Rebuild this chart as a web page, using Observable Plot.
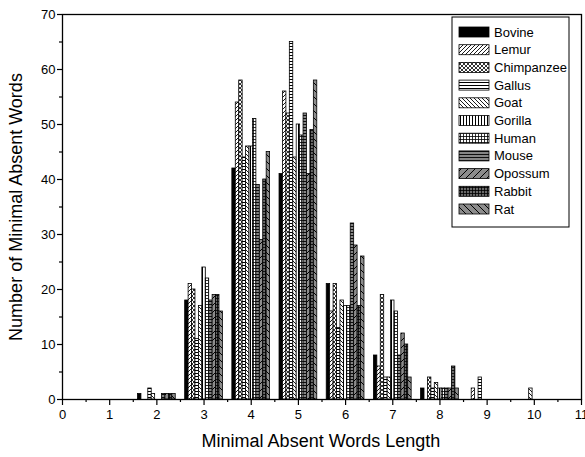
<!DOCTYPE html>
<html><head><meta charset="utf-8">
<script src="https://cdn.jsdelivr.net/npm/d3@7"></script>
<script src="https://cdn.jsdelivr.net/npm/@observablehq/plot@0.6"></script>
<style>
body{margin:0;background:#fff}
svg{font-family:"Liberation Sans",Arial,sans-serif}
</style>
</head><body><div id="chart"></div>
<script>
// Data
const lengths = [2, 3, 4, 5, 6, 7, 8, 9, 10];
const species = ["Bovine", "Lemur", "Chimpanzee", "Gallus", "Goat", "Gorilla", "Human", "Mouse", "Opossum", "Rabbit", "Rat"];
const bovine     = [1, 18, 42, 41, 21,  8, 2, 0, 0];
const lemur      = [0, 21, 54, 56, 16,  6, 0, 2, 0];
const chimpanzee = [0, 20, 58, 52, 21, 19, 4, 0, 0];
const gallus     = [2, 11, 44, 65, 13,  4, 2, 4, 0];
const goat       = [1, 17, 46, 44, 18,  4, 3, 0, 2];
const gorilla    = [0, 24, 46, 50, 17, 18, 2, 0, 0];
const human      = [0, 22, 51, 48, 17, 16, 2, 0, 0];
const mouse      = [1, 18, 39, 52, 32,  8, 2, 0, 0];
const opossum    = [1, 19, 29, 41, 28, 12, 2, 0, 0];
const rabbit     = [1, 19, 40, 49, 17, 10, 6, 0, 0];
const rat        = [1, 16, 45, 58, 26,  4, 2, 0, 0];
const xTicks = [0, 1, 2, 3, 4, 5, 6, 7, 8, 9, 10, 11];
const yTicks = [0, 10, 20, 30, 40, 50, 60, 70];
const xTitle = "Minimal Absent Words Length";
const yTitle = "Number of Minimal Absent Words";

const series = [bovine, lemur, chimpanzee, gallus, goat, gorilla, human, mouse, opossum, rabbit, rat];
const groupWidth = 0.8;
const bw = groupWidth / species.length;
const rows = [];
species.forEach((s, i) => lengths.forEach((L, j) => {
  const v = series[i][j];
  if (v > 0) rows.push({species: s, len: L, value: v,
    x1: L - groupWidth / 2 + i * bw, x2: L - groupWidth / 2 + (i + 1) * bw});
}));
const xMinor = d3.range(0.5, 11, 1);
const yMinor = d3.range(5, 70, 10);

const chart = Plot.plot({
  width: 585, height: 457,
  marginLeft: 62, marginRight: 4, marginTop: 14, marginBottom: 58,
  x: {domain: [0, 11]},
  y: {domain: [0, 70]},
  color: {domain: species, range: species.map((s, i) => `url(#pat${i})`)},
  style: {fontFamily: '"Liberation Sans", Arial, sans-serif', fontSize: "13px", color: "black", background: "white"},
  marks: [
    Plot.rectY(rows, {x1: "x1", x2: "x2", y: "value", fill: "species", stroke: "black", strokeWidth: 0.8}),
    Plot.axisX({ticks: xTicks, tickSize: 6, tickPadding: 4, label: null, strokeWidth: 1.2}),
    Plot.axisX({ticks: xMinor, tickSize: 3, text: null, label: null, strokeWidth: 1.2}),
    Plot.axisY({ticks: yTicks, tickSize: 5, tickPadding: 2, label: null, strokeWidth: 1.2}),
    Plot.axisY({ticks: yMinor, tickSize: 3, text: null, label: null, strokeWidth: 1.2}),
    Plot.frame({stroke: "black", strokeWidth: 1.3})
  ]
});

const svg = d3.select(chart);
const defs = svg.insert("defs", ":first-child");
function pattern(id, size, bg, paths, strokeW) {
  const p = defs.append("pattern").attr("id", id).attr("patternUnits", "userSpaceOnUse")
    .attr("width", size).attr("height", size);
  p.append("rect").attr("width", size).attr("height", size).attr("fill", bg);
  if (paths) p.append("path").attr("d", paths).attr("stroke", "black").attr("stroke-width", strokeW || 1).attr("fill", "none");
}
pattern("pat0", 4, "black", null);
pattern("pat1", 4, "white", "M-1,1L1,-1M0,4L4,0M3,5L5,3", 0.9);
pattern("pat2", 4, "white", "M-1,1L1,-1M0,4L4,0M3,5L5,3M-1,3L1,5M0,0L4,4M3,-1L5,1", 0.8);
pattern("pat3", 3, "white", "M0,1.5H3", 1);
pattern("pat4", 4, "white", "M-1,3L1,5M0,0L4,4M3,-1L5,1", 0.9);
pattern("pat5", 3, "white", "M1.5,0V3", 1);
pattern("pat6", 3, "white", "M0,1.5H3M1.5,0V3", 0.8);
pattern("pat7", 3, "#858585", "M0,1.5H3", 0.9);
pattern("pat8", 7, "#8c8c8c", "M-1,1L1,-1M0,7L7,0M6,8L8,6", 1);
pattern("pat9", 3, "#6a6a6a", "M0,1.5H3M1.5,0V3", 0.8);
pattern("pat10", 7, "#8c8c8c", "M-1,6L1,8M0,0L7,7M6,-1L8,1", 1);

// Axis titles
svg.append("text").attr("x", 321).attr("y", 447).attr("text-anchor", "middle")
  .attr("font-size", 18).attr("fill", "black").text(xTitle);
svg.append("text").attr("transform", "translate(22,207) rotate(-90)").attr("text-anchor", "middle")
  .attr("font-size", 18).attr("fill", "black").text(yTitle);

// Legend
const lg = svg.append("g");
lg.append("rect").attr("x", 452).attr("y", 17).attr("width", 117).attr("height", 210)
  .attr("fill", "white").attr("stroke", "black").attr("stroke-width", 1);
species.forEach((s, i) => {
  const cy = 32 + i * 17.7;
  lg.append("rect").attr("x", 459).attr("y", cy - 5).attr("width", 30).attr("height", 10)
    .attr("fill", `url(#pat${i})`).attr("stroke", "black").attr("stroke-width", 0.8);
  lg.append("text").attr("x", 494).attr("y", cy).attr("dy", "0.35em").attr("text-anchor", "start")
    .attr("font-size", 13).attr("fill", "black").text(s);
});

document.getElementById("chart").appendChild(chart);
</script>
</body></html>
